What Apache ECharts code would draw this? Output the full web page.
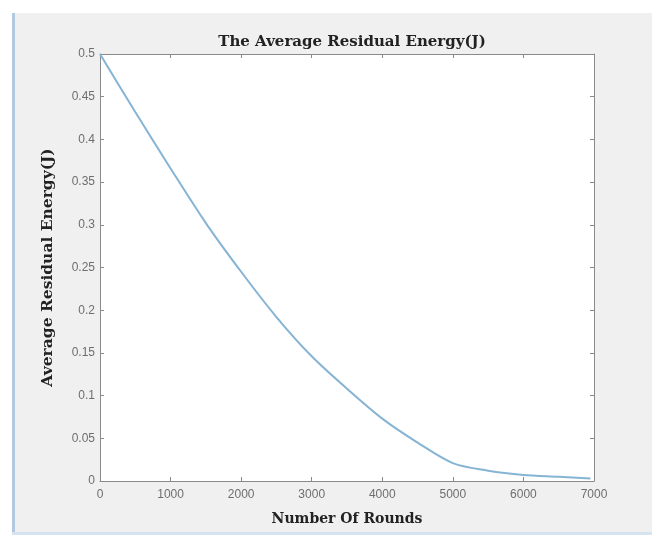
<!DOCTYPE html>
<html>
<head>
<meta charset="utf-8">
<script src="https://cdn.jsdelivr.net/npm/echarts@6/dist/echarts.min.js"></script>
<style>
html, body { margin: 0; padding: 0; background: #fff; }
#main { width: 652px; height: 539px; }
</style>
</head>
<body>
<div id="main"></div>
<script>
var chart = echarts.init(document.getElementById('main'));

// rounds and average residual energy (J)
var rounds = [0, 500, 1000, 1500, 2000, 2500, 3000, 3500, 4000, 4500, 5000, 5500, 6000, 6500, 6950];
var energy = [0.5, 0.432, 0.366, 0.302, 0.245, 0.192, 0.146, 0.108, 0.073, 0.045, 0.021, 0.012, 0.007, 0.005, 0.003];

var points = rounds.map(function (r, i) {
    return [r, energy[i]];
});

var serif = '"DejaVu Serif", "Liberation Serif", serif';
var sans = '"Liberation Sans", Arial, sans-serif';
var axisColor = '#8a8a8a';

function boxAxis(pos, show) {
    var horiz = pos == 'top' || pos == 'bottom';
    return {
        type: 'value',
        position: pos,
        min: 0,
        max: horiz ? 7000 : 0.5,
        interval: horiz ? 1000 : 0.05,
        axisLine: { show: true, onZero: false, lineStyle: { color: axisColor, width: 1 } },
        axisTick: { show: true, inside: true, length: 4, lineStyle: { color: axisColor } },
        axisLabel: { show: show },
        splitLine: { show: false }
    };
}

var xBottom = boxAxis('bottom', true);
xBottom.name = 'Number Of Rounds';
xBottom.nameLocation = 'middle';
xBottom.nameGap = 31;
xBottom.nameTextStyle = { fontFamily: serif, fontWeight: 'bold', fontSize: 14, color: '#222' };
xBottom.axisLabel = {
    show: true, color: '#6e6e6e', fontSize: 12, margin: 8, fontFamily: sans,
    formatter: function (v) { return String(v); }
};

var yLeft = boxAxis('left', true);
yLeft.name = 'Average Residual Energy(J)';
yLeft.nameLocation = 'middle';
yLeft.nameGap = 44;
yLeft.nameTextStyle = { fontFamily: serif, fontWeight: 'bold', fontSize: 15.5, color: '#222' };
yLeft.axisLabel = { show: true, color: '#6e6e6e', fontSize: 12, margin: 5, fontFamily: sans };

chart.setOption({
    backgroundColor: '#fff',
    animation: false,
    graphic: [{
        type: 'rect',
        z: -10,
        shape: { x: 13, y: 13, width: 652, height: 520 },
        style: { fill: '#f0f0f0' }
    }, {
        type: 'rect',
        z: -9,
        shape: { x: 12, y: 13, width: 3, height: 522 },
        style: { fill: '#b3c9e2' }
    }, {
        type: 'rect',
        z: -9,
        shape: { x: 12, y: 532, width: 640, height: 3 },
        style: { fill: '#d6e3f0' }
    }],
    title: {
        text: 'The Average Residual Energy(J)',
        left: 347,
        top: 30,
        textAlign: 'center',
        textStyle: { fontFamily: serif, fontWeight: 'bold', fontSize: 15, color: '#222' }
    },
    grid: {
        left: 100,
        top: 54,
        right: 58,
        bottom: 58,
        show: true,
        backgroundColor: '#fff',
        borderWidth: 0
    },
    xAxis: [xBottom, boxAxis('top', false)],
    yAxis: [yLeft, boxAxis('right', false)],
    series: [{
        type: 'line',
        data: points,
        smooth: 0.3,
        showSymbol: false,
        lineStyle: { color: '#86b4d4', width: 2 }
    }]
});
</script>
</body>
</html>
